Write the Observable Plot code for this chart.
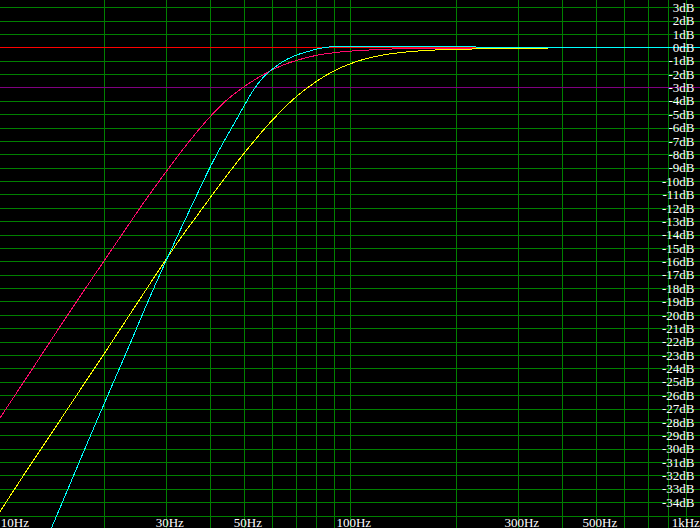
<!DOCTYPE html>
<html>
<head>
<meta charset="utf-8">
<script src="https://cdn.jsdelivr.net/npm/d3@7"></script>
<script src="https://cdn.jsdelivr.net/npm/@observablehq/plot@0.6"></script>
<style>
html, body { margin: 0; padding: 0; background: #000; overflow: hidden; }
#chart svg { display: block; }
</style>
</head>
<body>
<div id="chart"></div>
<script>
// ---- data ----
const pinkFreq = [10, 12.6, 14.7, 17, 20, 23, 26, 30, 33, 36, 40, 44, 49.2, 54, 59.2, 64, 70, 80, 93, 116, 131, 160, 230];
const pinkDb   = [-27.8, -23.8, -21.1, -18.6, -15.85, -13.5, -11.45, -9.2, -7.75, -6.5, -5.1, -4.0, -3.0, -2.3, -1.72, -1.3, -0.95, -0.56, -0.32, -0.15, -0.09, -0.05, -0.03];

const cyanFreq = [13.5, 14.11, 16, 18, 20, 23.8, 26, 30, 32.8, 36, 40.6, 43.5, 47, 50, 53, 56, 59.2, 63.1, 66, 70, 75, 80, 85, 90, 100, 120, 160, 200, 300, 1000];
const cyanDb   = [-37.1, -35.9, -32.5, -29.3, -26.5, -21.9, -19.5, -15.8, -13.6, -11.35, -8.5, -7.05, -5.5, -4.25, -3.12, -2.3, -1.7, -1.15, -0.85, -0.55, -0.3, -0.1, 0.03, 0.1, 0.12, 0.12, 0.1, 0.07, 0.04, 0.0];

const yellowFreq = [10, 12, 14, 17, 20, 25, 30, 33, 36, 40, 44, 48, 53, 58, 63, 70, 80, 90, 100, 111, 124, 138, 155, 172, 200, 250, 362];
const yellowDb   = [-34.8, -31.6, -28.95, -25.6, -22.8, -18.9, -15.75, -14.15, -12.8, -11.15, -9.7, -8.4, -7.0, -5.8, -4.8, -3.65, -2.5, -1.7, -1.18, -0.8, -0.53, -0.36, -0.24, -0.17, -0.11, -0.08, -0.07];

const xGridFreqs = [20, 30, 40, 50, 60, 70, 80, 90, 100, 200, 300, 400, 500, 600, 700, 800, 900];
const dbGridGreen = [3, 2, 1, -1, -2, -4, -5, -6, -7, -8, -9, -10, -11, -12, -13, -14, -15, -16, -17, -18, -19, -20, -21, -22, -23, -24, -25, -26, -27, -28, -29, -30, -31, -32, -33, -34, -35];
const dbZeroLine = [0];
const dbMinus3Line = [-3];

const yTickValues = [3, 2, 1, 0, -1, -2, -3, -4, -5, -6, -7, -8, -9, -10, -11, -12, -13, -14, -15, -16, -17, -18, -19, -20, -21, -22, -23, -24, -25, -26, -27, -28, -29, -30, -31, -32, -33, -34];
const xTickValues = [10, 30, 50, 100, 300, 500, 1000];
const xTickLabels = ["10Hz", "30Hz", "50Hz", "100Hz", "300Hz", "500Hz", "1kHz"];

// ---- tables built from the arrays ----
const toRows = (fs, ds) => fs.map((f, i) => ({f, db: ds[i]}));
const pink = toRows(pinkFreq, pinkDb);
const cyan = toRows(cyanFreq, cyanDb);
const yellow = toRows(yellowFreq, yellowDb);
const xLabels = xTickValues.map((f, i) => ({f, label: xTickLabels[i]}));

const font = "'Liberation Serif', 'Times New Roman', serif";

const chart = Plot.plot({
  width: 700,
  height: 528,
  margin: 0,
  style: {background: "#000", color: "#fff", fontFamily: font, fontSize: "13px"},
  x: {type: "log", domain: [10, 1000], range: [-1.7, 702.3], axis: null},
  y: {domain: [-35.93, 3.535], range: [528, 0], axis: null},
  marks: [
    Plot.ruleX(xGridFreqs, {stroke: "#008000", strokeWidth: 1, shapeRendering: "crispEdges"}),
    Plot.ruleY(dbGridGreen, {stroke: "#008000", strokeWidth: 1, shapeRendering: "crispEdges"}),
    Plot.ruleY(dbZeroLine, {stroke: "#ff0000", strokeWidth: 1, shapeRendering: "crispEdges"}),
    Plot.ruleY(dbMinus3Line, {stroke: "#800080", strokeWidth: 1, shapeRendering: "crispEdges"}),
    Plot.line(pink, {x: "f", y: "db", stroke: "#ff0a6c", strokeWidth: 1, curve: "monotone-x", clip: true, shapeRendering: "crispEdges"}),
    Plot.line(yellow, {x: "f", y: "db", stroke: "#ffff00", strokeWidth: 1, curve: "monotone-x", clip: true, shapeRendering: "crispEdges"}),
    Plot.line(cyan, {x: "f", y: "db", stroke: "#00ffff", strokeWidth: 1, curve: "monotone-x", clip: true, shapeRendering: "crispEdges"}),
    Plot.text(yTickValues, {
      ariaLabel: "ylabels",
      y: d => d, frameAnchor: "right", dx: -6, textAnchor: "end",
      text: d => `${d}dB`, fill: "#fff", fontFamily: font, fontSize: 13
    }),
    Plot.text(xLabels.slice(0, 1), {
      ariaLabel: "xlabels",
      x: "f", frameAnchor: "bottom", textAnchor: "start", lineAnchor: "bottom", dx: 2, dy: -2,
      text: "label", fill: "#fff", fontFamily: font, fontSize: 13
    }),
    Plot.text(xLabels.slice(1, -1), {
      ariaLabel: "xlabels",
      x: "f", frameAnchor: "bottom", textAnchor: "middle", lineAnchor: "bottom", dx: 3, dy: -2,
      text: "label", fill: "#fff", fontFamily: font, fontSize: 13
    }),
    Plot.text(xLabels.slice(-1), {
      ariaLabel: "xlabels",
      x: "f", frameAnchor: "bottom", textAnchor: "end", lineAnchor: "bottom", dx: -3, dy: -2,
      text: "label", fill: "#fff", fontFamily: font, fontSize: 13
    })
  ]
});

document.getElementById("chart").append(chart);

// black boxes behind the labels, as in the reference
const NS = "http://www.w3.org/2000/svg";
function addBox(t, x, w) {
  const b = t.getBBox();
  const r = document.createElementNS(NS, "rect");
  r.setAttribute("x", x(b));
  r.setAttribute("y", b.y);
  r.setAttribute("width", w(b));
  r.setAttribute("height", b.height);
  r.setAttribute("fill", "#000");
  const tr = t.getAttribute("transform");
  if (tr) r.setAttribute("transform", tr);
  t.parentNode.insertBefore(r, t);
}
// the dB column: every box as wide as the widest label, right-aligned
const yTexts = [...chart.querySelectorAll("g[aria-label='ylabels'] text")];
const maxW = d3.max(yTexts, t => t.getBBox().width);
yTexts.forEach(t => addBox(t, b => b.x + b.width - maxW - 1, () => maxW + 2));
chart.querySelectorAll("g[aria-label='xlabels'] text").forEach(t => addBox(t, b => b.x - 1, b => b.width + 2));
</script>
</body>
</html>
